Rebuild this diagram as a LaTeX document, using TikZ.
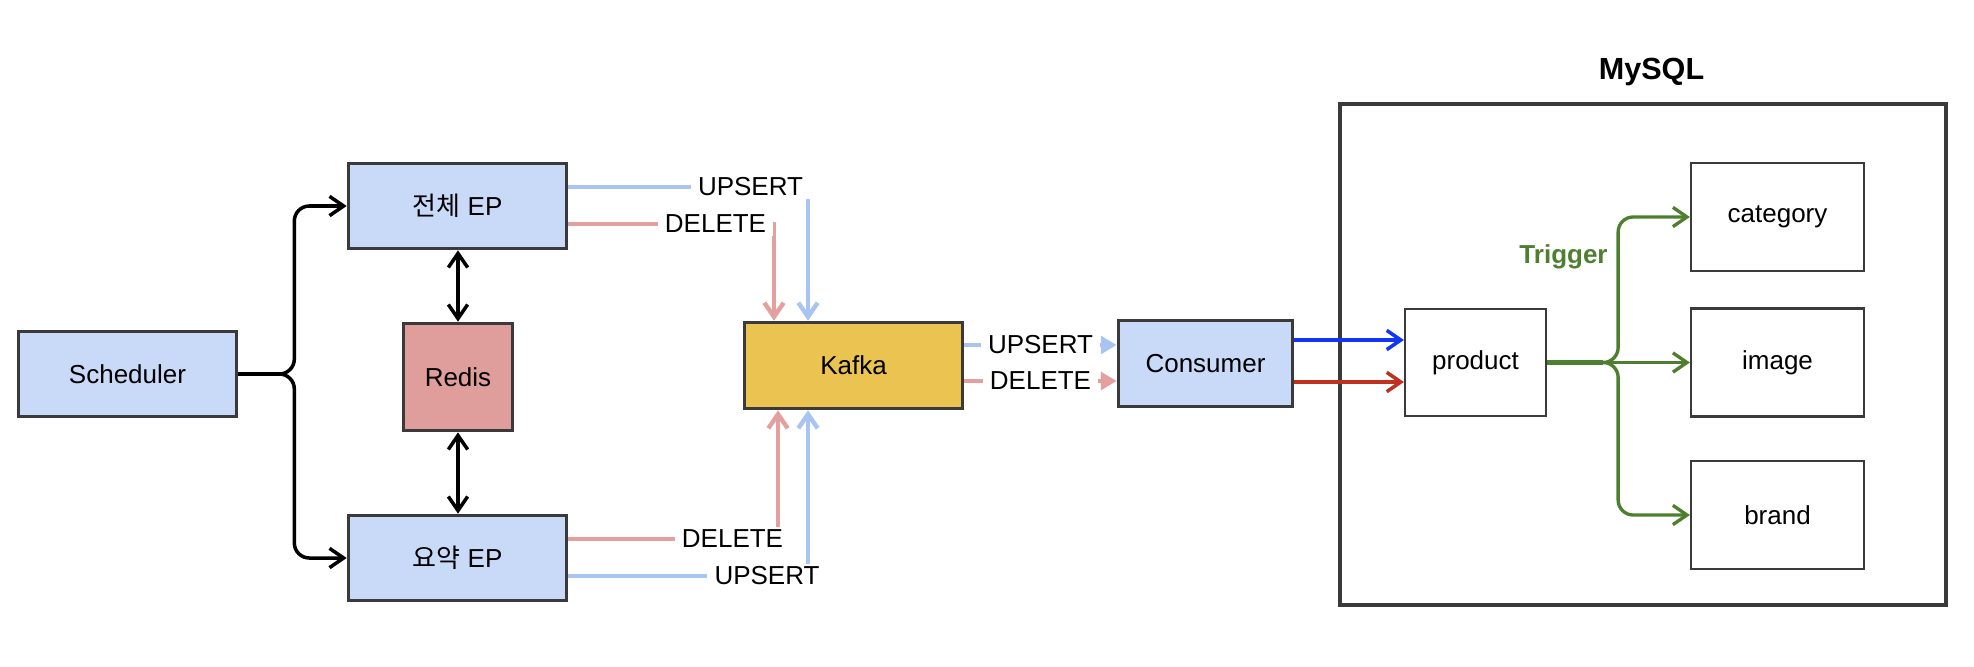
\documentclass[tikz,border=0pt]{standalone}
\usepackage{fontspec}
\setmainfont{Liberation Sans}
\newfontfamily\cjk{Noto Sans CJK KR}
\usetikzlibrary{arrows.meta,calc}

\definecolor{boxblue}{HTML}{C9DAF8}
\definecolor{redisred}{HTML}{DF9D9B}
\definecolor{kafkayellow}{HTML}{EAC350}
\definecolor{edgegray}{HTML}{3A3A3A}
\definecolor{lineblue}{HTML}{A8C4F2}
\definecolor{linered}{HTML}{E3A09E}
\definecolor{strongblue}{HTML}{1035F5}
\definecolor{strongred}{HTML}{C0301F}
\definecolor{triggreen}{HTML}{4E7F30}

\tikzset{
  chev/.tip={Straight Barb[length=8pt,width=11pt]},
  wedge/.tip={Triangle[length=9pt,width=10pt]},
  epbox/.style={draw=edgegray,fill=boxblue,line width=2.1pt,minimum width=4.36cm,minimum height=1.7cm,font=\fontsize{14.8}{17}\selectfont},
  tablebox/.style={draw=edgegray,fill=white,line width=1.3pt,minimum width=3.46cm,minimum height=2.16cm,font=\fontsize{14.8}{17}\selectfont},
  lbl/.style={fill=white,text=black,inner xsep=4pt,inner ysep=1.5pt,font=\fontsize{14.8}{17}\selectfont},
  sch/.style={line width=2pt,rounded corners=0.3cm,-chev},
  upline/.style={line width=2.5pt,color=lineblue},
  delline/.style={line width=2.5pt,color=linered},
  trigline/.style={line width=1.9pt,color=triggreen,rounded corners=0.3cm,-chev}
}

\begin{document}
\begin{tikzpicture}[x=0.02cm,y=-0.02cm]
\useasboundingbox (0,0) rectangle (1974,666);
% left side
\draw (127.5,374) node[epbox](sched) {Scheduler};
\draw (457.5,206) node[epbox](full) {{\cjk 전체} EP};
\draw (457.5,558) node[epbox](summ) {{\cjk 요약} EP};
\draw (458,377) node[epbox,fill=redisred,minimum width=2.18cm,minimum height=2.14cm](redis) {Redis};
\draw (853.5,365.5) node[epbox,fill=kafkayellow,minimum height=1.72cm](kafka) {Kafka};
\draw (1205.5,363.5) node[epbox,minimum width=3.48cm,minimum height=1.72cm](consumer) {Consumer};
% MySQL
\draw (1643,354.5) node[draw=edgegray,line width=2.3pt,minimum width=12.14cm,minimum height=10.04cm](mysql) {};
\draw (1651.5,72) node[font=\bfseries\fontsize{17.4}{20}\selectfont](mysqltitle) {MySQL};
\draw (1475.5,362.5) node[tablebox,minimum width=2.82cm,minimum height=2.14cm](product) {product};
\draw (1777.5,217) node[tablebox](category) {category};
\draw (1777.5,362.5) node[tablebox](image) {image};
\draw (1777.5,515) node[tablebox](brand) {brand};

\draw[sch] (sched.east) -- ++(56,0) |- (full.west);
\draw[sch] (sched.east) -- ++(56,0) |- (summ.west);
\draw[line width=2.8pt] (sched.east) -- ++(40,0);
\draw[line width=2pt,chev-chev] (redis.north) -- (redis.north |- full.south);
\draw[line width=2pt,chev-chev] (redis.south) -- (redis.south |- summ.north);

% EP -> Kafka
\draw[upline,-chev] ($(full.east)+(0,-19)$) -| ($(kafka.north)+(-45.5,0)$);
\draw (750.5,187) node[lbl](up1) {UPSERT};
\draw[delline,-chev] ($(full.east)+(0,18)$) -| ($(kafka.north)+(-79.5,0)$);
\draw (715.5,224) node[lbl](del1) {DELETE};
\draw[delline,-chev] ($(summ.east)+(0,-19)$) -| ($(kafka.south)+(-75.5,0)$);
\draw (732.5,539) node[lbl](del2) {DELETE};
\draw[upline,-chev] ($(summ.east)+(0,18)$) -| ($(kafka.south)+(-45.5,0)$);
\draw (767,576) node[lbl](up2) {UPSERT};

% Kafka -> Consumer -> product
\draw[upline,-wedge] ($(kafka.east)+(0,-20.5)$) -- node[lbl](up3) {UPSERT} ($(consumer.west)+(0,-18.5)$);
\draw[delline,-wedge] ($(kafka.east)+(0,15.5)$) -- node[lbl](del3) {DELETE} ($(consumer.west)+(0,17.5)$);
\draw[line width=2pt,strongblue,-chev] ($(consumer.east)+(0,-23.5)$) -- ($(product.west)+(0,-22.5)$);
\draw[line width=2pt,strongred,-chev] ($(consumer.east)+(0,18.5)$) -- ($(product.west)+(0,19.5)$);

% trigger
\draw[trigline] (product.east) -- ++(71,0) |- (category.west);
\draw[trigline] (product.east) -- (image.west);
\draw[trigline] (product.east) -- ++(71,0) |- (brand.west);
\draw[triggreen,line width=3pt] (product.east) -- ++(56,0);
\draw (1563.5,257) node[font=\bfseries\fontsize{14.8}{17}\selectfont,text=triggreen](trig) {Trigger};
\end{tikzpicture}
\end{document}
